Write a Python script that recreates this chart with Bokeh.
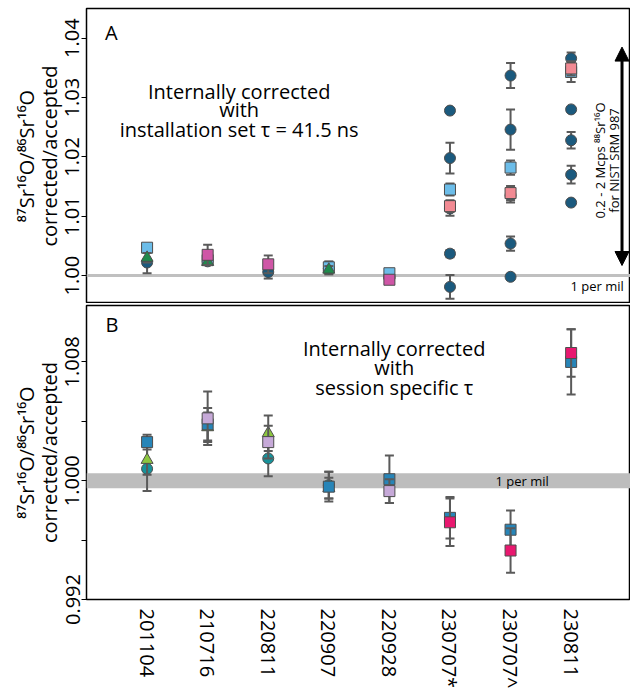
import math
from bokeh.plotting import figure
from bokeh.layouts import column
from bokeh.models import Range1d, FixedTicker, Span, BoxAnnotation, Label, Arrow, NormalHead, PrintfTickFormatter
from bokeh.embed import file_html
from bokeh.resources import INLINE

FONT = "Open Sans"

sessions = ["201104", "210716", "220811", "220907", "220928", "230707*", "230707^", "230811"]
session_pos = [1, 2, 3, 4, 5, 6, 7, 8]

# ---------------- Panel A: installation set tau ----------------
a_circle_x = [1, 2, 3, 4, 5, 6, 6, 6, 6, 6, 7, 7, 7, 7, 7, 8, 8, 8, 8, 8]
a_circle_y = [1.0022, 1.0024, 1.0006, 1.0012, 0.9996,
              1.0278, 1.0198, 1.0113, 1.0037, 0.9981,
              1.0337, 1.0246, 1.0135, 1.0054, 0.9998,
              1.0366, 1.0280, 1.0228, 1.0170, 1.0123]
a_circle_e = [0.0018, 0.0004, 0.0011, 0.0010, 0.0006,
              0.0004, 0.0026, 0.0012, 0.0006, 0.0020,
              0.0021, 0.0034, 0.0012, 0.0012, 0.0005,
              0.0010, 0.0002, 0.0014, 0.0015, 0.0002]

a_lblue_x = [1, 2, 4, 5, 6, 7, 8]
a_lblue_y = [1.0047, 1.0026, 1.0014, 1.0004, 1.0145, 1.0182, 1.0343]
a_lblue_e = [0.0005, 0.0004, 0.0010, 0.0006, 0.0010, 0.0012, 0.0017]

a_green_x = [1, 2, 4]
a_green_y = [1.0030, 1.0023, 1.0010]
a_green_e = [0.0008, 0.0004, 0.0006]

a_magenta_x = [2, 3, 5]
a_magenta_y = [1.0035, 1.0019, 0.9993]
a_magenta_e = [0.0017, 0.0015, 0.0006]

a_pink_x = [6, 7, 8]
a_pink_y = [1.0117, 1.0139, 1.0349]
a_pink_e = [0.0010, 0.0012, 0.0012]

a_yticks = [1.00, 1.01, 1.02, 1.03, 1.04]

# ---------------- Panel B: session specific tau ----------------
b_blue_x = [1, 2, 4, 5, 6, 7, 8]
b_blue_y = [1.0026, 1.0038, 0.9996, 1.0001, 0.9975, 0.9967, 1.0080]
b_blue_e = [0.0005, 0.0011, 0.0010, 0.0016, 0.0014, 0.0013, 0.0022]

b_lav_x = [2, 3, 5]
b_lav_y = [1.0042, 1.0026, 0.9993]
b_lav_e = [0.0018, 0.0011, 0.0008]

b_green_x = [1, 2, 3, 4]
b_green_y = [1.0014, 1.0036, 1.0032, 0.9995]
b_green_e = [0.0010, 0.0010, 0.0012, 0.0007]

b_teal_x = [1, 3, 4]
b_teal_y = [1.0008, 1.0015, 0.9997]
b_teal_e = [0.0015, 0.0012, 0.0009]

b_pink_x = [6, 7, 8]
b_pink_y = [0.9972, 0.9953, 1.0086]
b_pink_e = [0.0016, 0.0015, 0.0016]

b_yticks = [0.992, 1.000, 1.008]
b_yminor = [0.996, 1.004]

YLABEL = "\u2078\u2077Sr\u00b9\u2076O/\u2078\u2076Sr\u00b9\u2076O\ncorrected/accepted"
ERR_COLOR = "#5a5a5a"
EDGE = "#4d4d4d"


def series(p, xs, ys, es, marker, color, size):
    lo = [y - e for y, e in zip(ys, es)]
    hi = [y + e for y, e in zip(ys, es)]
    p.segment(xs, lo, xs, hi, line_color=ERR_COLOR, line_width=2)
    p.scatter(xs, lo, marker="dash", size=9, line_color=ERR_COLOR, line_width=2)
    p.scatter(xs, hi, marker="dash", size=9, line_color=ERR_COLOR, line_width=2)
    p.scatter(xs, ys, marker=marker, size=size, fill_color=color,
              line_color=EDGE, line_width=1)


def style(p):
    p.xgrid.visible = False
    p.ygrid.visible = False
    p.outline_line_color = "black"
    p.outline_line_width = 1.5
    p.background_fill_color = "white"
    p.border_fill_color = "white"
    ax = p.yaxis[0]
    ax.axis_line_color = None
    ax.major_tick_in = 0
    ax.major_tick_out = 5
    ax.minor_tick_in = 0
    ax.minor_tick_out = 5
    ax.major_tick_line_color = "black"
    ax.minor_tick_line_color = "black"
    ax.major_label_orientation = "vertical"
    ax.major_label_text_font = FONT
    ax.major_label_text_font_size = "20px"
    ax.major_label_text_color = "black"
    ax.major_label_standoff = 2
    ax.axis_label = YLABEL
    ax.axis_label_text_font = FONT
    ax.axis_label_text_font_size = "20px"
    ax.axis_label_text_font_style = "normal"
    ax.axis_label_text_color = "black"
    ax.axis_label_text_line_height = 0.85
    ax.axis_label_standoff = 0


def label(p, x, y, text, size="20px", angle=0.0):
    p.add_layout(Label(x=x, y=y, text=text, text_font=FONT, text_font_size=size,
                       text_color="black", angle=angle,
                       text_align="center", text_baseline="middle"))


# ----- figure A -----
pa = figure(frame_width=544, frame_height=295,
            x_range=Range1d(0, 8.98), y_range=Range1d(0.9953, 1.045),
            output_backend="svg", toolbar_location=None,
            min_border_left=86, min_border_right=0, min_border_top=8, min_border_bottom=0)
style(pa)
pa.xaxis.visible = False
pa.yaxis.ticker = FixedTicker(ticks=a_yticks, minor_ticks=[])
pa.yaxis.formatter = PrintfTickFormatter(format="%.2f")

pa.add_layout(Span(location=1.0, dimension="width", line_color="#c0c0c0", line_width=3, level="underlay"))

series(pa, a_circle_x, a_circle_y, a_circle_e, "circle", "#1b5a7e", 11)
series(pa, a_lblue_x, a_lblue_y, a_lblue_e, "square", "#6cbde9", 11)
series(pa, a_green_x, a_green_y, a_green_e, "triangle", "#1e8b4c", 12)
series(pa, a_magenta_x, a_magenta_y, a_magenta_e, "square", "#cf56a6", 11)
series(pa, a_pink_x, a_pink_y, a_pink_e, "square", "#f28a93", 11)

label(pa, 0.41, 1.041, "A")
for txt, yy in [("Internally corrected", 1.0310), ("with", 1.0279),
                ("installation set \u03c4 = 41.5 ns", 1.0246)]:
    label(pa, 2.52, yy, txt)
label(pa, 8.43, 0.9983, "1 per mil", size="13px")
pa.add_layout(Arrow(start=NormalHead(size=14, fill_color="black", line_color="black"),
                    end=NormalHead(size=14, fill_color="black", line_color="black"),
                    x_start=8.84, y_start=1.0017, x_end=8.84, y_end=1.0385,
                    line_width=3, line_color="black"))
label(pa, 8.48, 1.0194, "0.2 - 2 Mcps \u2078\u2078Sr\u00b9\u2076O", size="13px", angle=math.pi / 2)
label(pa, 8.71, 1.0194, "for NIST SRM 987", size="13px", angle=math.pi / 2)

# ----- figure B -----
pb = figure(frame_width=544, frame_height=294,
            x_range=Range1d(0, 8.98), y_range=Range1d(0.992, 1.0118),
            output_backend="svg", toolbar_location=None,
            min_border_left=86, min_border_right=0, min_border_top=2, min_border_bottom=93)
style(pb)
pb.yaxis.ticker = FixedTicker(ticks=b_yticks, minor_ticks=b_yminor)
pb.yaxis.formatter = PrintfTickFormatter(format="%.3f")
xa = pb.xaxis[0]
xa.ticker = FixedTicker(ticks=session_pos, minor_ticks=[])
xa.major_label_overrides = {i: s for i, s in zip(session_pos, sessions)}
xa.axis_line_color = None
xa.major_tick_line_color = None
xa.minor_tick_line_color = None
xa.major_label_orientation = "vertical"
xa.major_label_text_font = FONT
xa.major_label_text_font_size = "20px"
xa.major_label_text_color = "black"
xa.major_label_standoff = 3

pb.add_layout(BoxAnnotation(bottom=0.9995, top=1.0005, fill_color="#bdbdbd", fill_alpha=1.0,
                            line_color=None, level="underlay"))

series(pb, b_teal_x, b_teal_y, b_teal_e, "circle", "#17929a", 11)
series(pb, b_green_x, b_green_y, b_green_e, "triangle", "#8cc63f", 12)
series(pb, b_blue_x, b_blue_y, b_blue_e, "square", "#2785b8", 11)
series(pb, b_lav_x, b_lav_y, b_lav_e, "square", "#c6a9d8", 11)
series(pb, b_pink_x, b_pink_y, b_pink_e, "square", "#e8186f", 11)

label(pb, 0.42, 1.01055, "B")
for txt, yy in [("Internally corrected", 1.0089), ("with", 1.0076),
                ("session specific \u03c4", 1.00625)]:
    label(pb, 5.08, yy, txt)
label(pb, 7.19, 1.0, "1 per mil", size="13px")

layout = column(pa, pb, spacing=0)
open("out.html", "w").write(file_html(layout, INLINE))
